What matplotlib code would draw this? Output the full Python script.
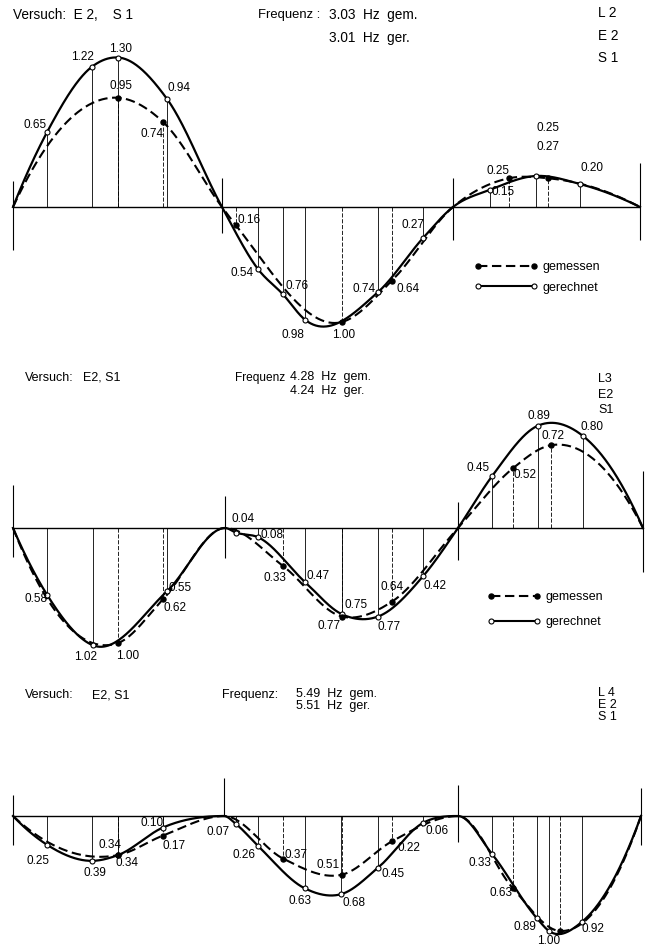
import numpy as np
import matplotlib
matplotlib.use("Agg")
import matplotlib.pyplot as plt
from matplotlib.lines import Line2D

plt.rcParams['font.family'] = ['Liberation Sans', 'DejaVu Sans']

# ---- L 2 : 3.03 Hz gem. / 3.01 Hz ger.
sup_1 = [13, 222, 453, 640]
ber_x_1 = [47, 92, 118, 167, 258, 283, 305, 378, 423, 490, 536, 580]
ber_v_1 = [0.65, 1.22, 1.30, 0.94, -0.54, -0.76, -0.98, -0.74, -0.27, 0.15, 0.27, 0.20]
gem_x_1 = [118, 163, 236, 342, 392, 509, 548]
gem_v_1 = [0.95, 0.74, -0.16, -1.00, -0.64, 0.25, 0.25]

# ---- L 3 : 4.28 Hz gem. / 4.24 Hz ger.
sup_2 = [13, 225, 458, 643]
ber_x_2 = [47, 93, 167, 236, 258, 305, 342, 378, 423, 492, 538, 583]
ber_v_2 = [-0.58, -1.02, -0.55, -0.04, -0.08, -0.47, -0.75, -0.77, -0.42, 0.45, 0.89, 0.80]
gem_x_2 = [118, 163, 283, 342, 392, 513, 551]
gem_v_2 = [-1.00, -0.62, -0.33, -0.77, -0.64, 0.52, 0.72]

# ---- L 4 : 5.49 Hz gem. / 5.51 Hz ger.
sup_3 = [13, 224, 458, 641]
ber_x_3 = [47, 92, 118, 163, 236, 258, 305, 341, 378, 423, 492, 537, 549, 582]
ber_v_3 = [-0.25, -0.39, -0.34, -0.10, -0.07, -0.26, -0.63, -0.68, -0.45, -0.06, -0.33, -0.89, -1.00, -0.92]
gem_x_3 = [118, 163, 283, 342, 392, 513, 560]
gem_v_3 = [-0.34, -0.17, -0.37, -0.51, -0.22, -0.63, -1.00]


def hermite(xk, yk, xs, flat):
    # smooth C1 line through the points, slopes from a local parabola;
    # at supports where the line only touches the axis the slope is set to 0
    xk = np.asarray(xk, float)
    yk = np.asarray(yk, float)
    h = np.diff(xk)
    d = np.diff(yk) / h
    m = np.zeros_like(yk)
    m[1:-1] = (h[1:] * d[:-1] + h[:-1] * d[1:]) / (h[:-1] + h[1:])
    m[0] = ((2 * h[0] + h[1]) * d[0] - h[0] * d[1]) / (h[0] + h[1])
    m[-1] = ((2 * h[-1] + h[-2]) * d[-1] - h[-1] * d[-2]) / (h[-1] + h[-2])
    for i in range(1, len(xk) - 1):
        if flat[i] and d[i - 1] * d[i] < 0:
            m[i] = 0.0
    i = np.clip(np.searchsorted(xk, xs) - 1, 0, len(h) - 1)
    t = (xs - xk[i]) / h[i]
    h00 = 2 * t**3 - 3 * t**2 + 1
    h10 = t**3 - 2 * t**2 + t
    h01 = -2 * t**3 + 3 * t**2
    h11 = t**3 - t**2
    return h00 * yk[i] + h10 * h[i] * m[i] + h01 * yk[i + 1] + h11 * h[i] * m[i + 1]


def curve(sup, xs, vs):
    kx = list(xs) + list(sup)
    kv = list(vs) + [0.0] * len(sup)
    fl = [False] * len(xs) + [True] * len(sup)
    order = np.argsort(kx)
    kx = np.array(kx)[order]
    kv = np.array(kv)[order]
    fl = np.array(fl)[order]
    xx = np.linspace(sup[0], sup[-1], 1200)
    return xx, hermite(kx, kv, xx, fl)


W, H = 650, 949
SCALE = 115.0  # pixel per unit ordinate
fig = plt.figure(figsize=(W / 100, H / 100), dpi=100)
fig.patch.set_facecolor('white')

DASH = (0, (4.5, 2.2))
NUM = 8.5
HEAD = 9.0


def ftext(x, y, s, size=HEAD, **kw):
    fig.text(x / W, 1 - y / H, s, fontsize=size, va='center', ha='left', **kw)


def panel(top, bottom, base, sup, sup_ext, bx, bv, blab, gx, gv, glab, leg):
    ax = fig.add_axes([0, 1 - bottom / H, 1, (bottom - top) / H])
    ax.set_xlim(0, W)
    ax.set_ylim((base - bottom) / SCALE, (base - top) / SCALE)
    ax.axis('off')

    ax.hlines(0, sup[0], sup[-1], color='k', lw=1.0)
    for s, (up, dn) in zip(sup, sup_ext):
        ax.vlines(s, dn, up, color='k', lw=0.8)

    ax.vlines(bx, 0, bv, color='k', lw=0.6)
    ax.vlines(gx, 0, gv, color='k', lw=0.6, linestyles=[(0, (5, 2))])

    xx, yy = curve(sup, bx, bv)
    ax.plot(xx, yy, color='k', lw=1.6, zorder=3)
    xx, yy = curve(sup, gx, gv)
    ax.plot(xx, yy, color='k', lw=1.5, ls=DASH, zorder=3)

    ax.plot(bx, bv, 'o', ms=3.6, mfc='white', mec='k', mew=0.8, ls='none', zorder=5)
    ax.plot(gx, gv, 'o', ms=3.6, mfc='k', mec='k', ls='none', zorder=5)

    for x, v, off in list(zip(bx, bv, blab)) + list(zip(gx, gv, glab)):
        if off is None:
            continue
        ax.annotate(f"{abs(v):.2f}", (x, v), xytext=off, textcoords='offset pixels',
                    ha='center', va='center', fontsize=NUM, zorder=6)

    if leg is not None:
        handles = [Line2D([], [], color='k', lw=1.5, ls=DASH, marker='o', ms=3.6, mfc='k'),
                   Line2D([], [], color='k', lw=1.5, marker='o', ms=3.6, mfc='white', mew=0.8)]
        ax.legend(handles, ['gemessen', 'gerechnet'], numpoints=2, frameon=False,
                  loc='upper left', bbox_to_anchor=leg[0], handlelength=leg[1],
                  handletextpad=0.4, labelspacing=leg[2], borderpad=0, borderaxespad=0,
                  fontsize=HEAD)
    return ax


panel(0, 330, 207, sup_1, [(0.23, -0.37), (0.25, -0.23), (0.25, -0.29), (0.38, -0.29)],
      ber_x_1, ber_v_1,
      [(-12, 7), (-10, 10), (3, 9), (12, 11), (-16, -4), (14, 8), (-12, -15), (-14, 3),
       (-10, 13), (13, -2), (12, 29), (12, 16)],
      gem_x_1, gem_v_1,
      [(3, 12), (-11, -12), (13, 5), (2, -13), (16, -8), (-11, 7), (0, 50)],
      ((474 / W, (330 - 261) / 330), 5.1, 0.68))

panel(330, 670, 528, sup_2, [(0.37, -0.25), (0.28, -0.26), (0.23, -0.28), (0.5, -0.38)],
      ber_x_2, ber_v_2,
      [(-11, -4), (-7, -12), (13, 3), (7, 14), (14, 2), (13, 6), (14, 9), (11, -10),
       (12, -10), (-14, 8), (1, 10), (9, 9)],
      gem_x_2, gem_v_2,
      [(10, -13), (12, -9), (-8, -12), (-13, -9), (0, 15), (12, -7), (2, 9)],
      ((487 / W, (670 - 591) / 340), 4.3, 1.08))

panel(670, 949, 816, sup_3, [(0.18, -0.25), (0.33, 0.0), (0.27, -0.23), (0.24, -0.25)],
      ber_x_3, ber_v_3,
      [(-9, -16), (3, -12), (-8, 10), (-11, 4), (-18, -8), (-14, -9), (-5, -13), (13, -9),
       (15, -6), (14, -8), (-12, -9), (-12, -9), (0, -10), (11, -7)],
      gem_x_3, gem_v_3,
      [(9, -8), (11, -10), (13, 4), (-14, 10), (17, -7), (-12, -5), None],
      None)

# headers
BIG = 9.8
ftext(13, 15, "Versuch:  E 2,    S 1", size=BIG)
ftext(258, 15, "Frequenz :", size=9.4)
ftext(329, 15, "3.03  Hz  gem.", size=BIG)
ftext(329, 38, "3.01  Hz  ger.", size=BIG)
ftext(598, 13, "L 2", size=BIG)
ftext(598, 36, "E 2", size=BIG)
ftext(598, 58, "S 1", size=BIG)

ftext(25, 378, "Versuch:")
ftext(83, 378, "E2, S1")
ftext(235, 378, "Frequenz", size=8.6)
ftext(290, 377, "4.28  Hz  gem.")
ftext(290, 391, "4.24  Hz  ger.")
ftext(598, 379, "L3")
ftext(598, 395, "E2")
ftext(598, 410, "S1")

ftext(25, 695, "Versuch:")
ftext(92, 695, "E2, S1")
ftext(222, 695, "Frequenz:")
ftext(296, 694, "5.49  Hz  gem.")
ftext(296, 706, "5.51  Hz  ger.")
ftext(598, 693, "L 4")
ftext(598, 705, "E 2")
ftext(598, 717, "S 1")

fig.savefig("out.png", dpi=100, facecolor='white')
